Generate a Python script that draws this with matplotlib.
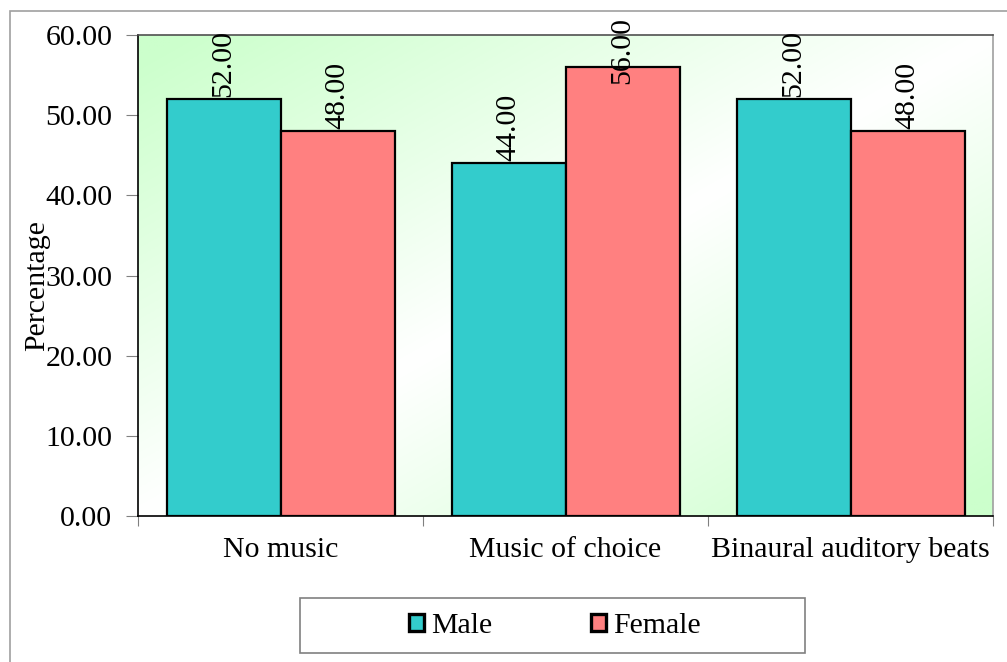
import matplotlib

matplotlib.use("Agg")
import matplotlib.pyplot as plt
import numpy as np
from matplotlib.colors import LinearSegmentedColormap
from matplotlib.patches import Rectangle

# data
categories = ["No music", "Music of choice", "Binaural auditory beats"]
male = [52.00, 44.00, 52.00]
female = [48.00, 56.00, 48.00]
series_names = ["Male", "Female"]
yticks = [0, 10, 20, 30, 40, 50, 60]

plt.rcParams["font.family"] = ["Liberation Serif", "DejaVu Serif"]
FS = 21.5

fig = plt.figure(figsize=(10.07, 6.62), dpi=100)
W, H = 1007, 662
ax = fig.add_axes([138 / W, 1 - 516 / H, (993 - 138) / W, (516 - 35) / H])

# outer chart frame
fig.patches.append(Rectangle((10 / W, -0.05), 1.1, 1 - 11 / H + 0.05,
                             transform=fig.transFigure, fill=False,
                             edgecolor="#a0a0a0", lw=1.2))

# diagonal green-white-green background
n = 200
gx, gy = np.meshgrid(np.linspace(0, 1, n), np.linspace(0, 1, n))
t = np.abs((gx + (1 - gy)) - 1.0)  # 0 along the middle diagonal, 1 at corners
cmap = LinearSegmentedColormap.from_list("bg", ["#ffffff", "#ccffcc"])
ax.imshow(t, extent=[-0.5, 2.5, 0, 60], origin="lower", aspect="auto",
          cmap=cmap, vmin=0, vmax=0.95, zorder=0)
ax.set_xlim(-0.5, 2.5)
ax.set_ylim(0, 60)

x = np.arange(len(categories))
w = 0.4
bm = ax.bar(x - w / 2, male, w, color="#33cccc", edgecolor="black", lw=1.6,
            label=series_names[0], zorder=2)
bf = ax.bar(x + w / 2, female, w, color="#ff8080", edgecolor="black", lw=1.6,
            label=series_names[1], zorder=2)

label_ceiling = 53.6
for bars, vals in ((bm, male), (bf, female)):
    for b, v in zip(bars, vals):
        ax.text(b.get_x() + b.get_width() / 2, min(v, label_ceiling) + 0.3,
                f"{v:.2f}", rotation=90, ha="center", va="bottom",
                fontsize=FS, zorder=3, clip_on=False)

ax.set_yticks(yticks)
ax.set_yticklabels([f"{v:.2f}" for v in yticks], fontsize=FS)
ax.set_xticks([-0.5, 0.5, 1.5, 2.5])
ax.set_xticklabels([])
ax.set_xticks(x, minor=True)
ax.set_xticklabels(categories, minor=True, fontsize=FS)
ax.tick_params(axis="x", which="minor", length=0, pad=15)
ax.tick_params(axis="x", which="major", direction="out", length=7, color="#808080")
ax.tick_params(axis="y", direction="out", length=9, color="#808080", pad=9.5)

ax.spines["left"].set_color("black")
ax.spines["bottom"].set_color("black")
ax.spines["top"].set_color("#505050")
ax.spines["right"].set_color("#a0a0a0")
for s in ax.spines.values():
    s.set_linewidth(1.2)

fig.text(37 / W, 1 - 286 / H, "Percentage", rotation=90, ha="center",
         va="center", fontsize=FS)

# legend box and entries
fig.patches.append(Rectangle((300 / W, 1 - 653 / H), 505 / W, 55 / H,
                             transform=fig.transFigure, facecolor="white",
                             edgecolor="#808080", lw=1.2))
leg = fig.legend(handles=[bm, bf], labels=series_names, ncol=2,
                 loc="center", bbox_to_anchor=(555 / W, 1 - 626 / H),
                 fontsize=FS, frameon=False, handlelength=0.5,
                 handleheight=0.5, handletextpad=0.25, columnspacing=3.3,
                 borderpad=0, borderaxespad=0)
for h in leg.legend_handles:
    h.set_linewidth(2.4)

fig.savefig("out.png", dpi=100)
